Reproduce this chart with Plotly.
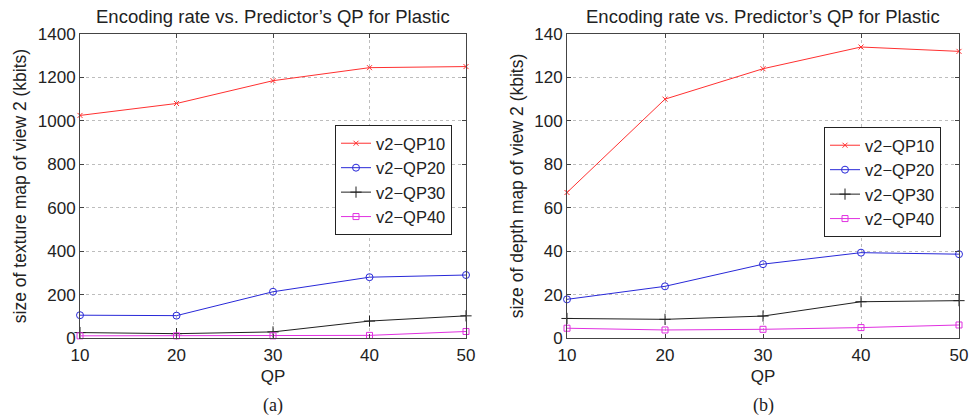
import plotly.graph_objects as go

qp = [10, 20, 30, 40, 50]
series_names = ["v2\u2212QP10", "v2\u2212QP20", "v2\u2212QP30", "v2\u2212QP40"]

texture_qp10 = [1025, 1080, 1185, 1245, 1250]
texture_qp20 = [105, 103, 213, 280, 290]
texture_qp30 = [25, 20, 28, 78, 102]
texture_qp40 = [10, 10, 10, 12, 30]

depth_qp10 = [67, 110, 124, 134, 132]
depth_qp20 = [17.8, 23.8, 34, 39.3, 38.6]
depth_qp30 = [9, 8.6, 10.1, 16.7, 17.2]
depth_qp40 = [4.5, 3.7, 4.0, 4.8, 6.0]

x_ticks = [10, 20, 30, 40, 50]
texture_ticks = [0, 200, 400, 600, 800, 1000, 1200, 1400]
depth_ticks = [0, 20, 40, 60, 80, 100, 120, 140]

title_text = "Encoding rate vs. Predictor\u2019s QP for Plastic"

styles = [
    dict(color="#ff3030", symbol="x-thin-open", size=5),
    dict(color="#2828d8", symbol="circle-open", size=7),
    dict(color="#202020", symbol="cross-thin-open", size=8),
    dict(color="#e030e0", symbol="square-open", size=6),
]

FONT = "Liberation Sans, Arial, sans-serif"
fig = go.Figure()

for vals, st, name in zip([texture_qp10, texture_qp20, texture_qp30, texture_qp40], styles, series_names):
    fig.add_trace(go.Scatter(
        x=qp, y=vals, mode="lines+markers", name=name,
        line=dict(color=st["color"], width=1),
        marker=dict(symbol=st["symbol"], size=st["size"], color=st["color"],
                    line=dict(color=st["color"], width=1)),
        xaxis="x", yaxis="y", legend="legend", cliponaxis=False))

for vals, st, name in zip([depth_qp10, depth_qp20, depth_qp30, depth_qp40], styles, series_names):
    fig.add_trace(go.Scatter(
        x=qp, y=vals, mode="lines+markers", name=name,
        line=dict(color=st["color"], width=1),
        marker=dict(symbol=st["symbol"], size=st["size"], color=st["color"],
                    line=dict(color=st["color"], width=1)),
        xaxis="x2", yaxis="y2", legend="legend2", cliponaxis=False))

W, H = 969, 417
# plot area in window pixels
PL, PR, PT, PB = 80, 959, 34, 338
L, R, T, B = PL, W - PR, PT, H - PB
PW, PH = W - L - R, H - T - B

def px_x(p):
    return (p - L) / PW

def px_y(p):
    return (H - B - p) / PH

axis_common = dict(
    showline=True, mirror="ticks", linecolor="#444", linewidth=1,
    ticks="inside", ticklen=4, tickcolor="#444", automargin=False,
    showgrid=True, gridcolor="#bdbdbd", griddash="dot", gridwidth=1,
    zeroline=False, tickfont=dict(size=17, color="#222", family=FONT),
)

xdom1 = [px_x(80), px_x(466)]
xdom2 = [px_x(567), px_x(959)]

fig.update_layout(
    width=W, height=H, template="none",
    margin=dict(l=L, r=R, t=T, b=B, autoexpand=False),
    paper_bgcolor="white", plot_bgcolor="white",
    font=dict(family=FONT, color="#222"),
    xaxis=dict(domain=xdom1, range=[10, 50], tickvals=x_ticks, anchor="y", ticklabelstandoff=2,
               title=dict(text="QP", font=dict(size=17), standoff=5), **axis_common),
    yaxis=dict(domain=[0, 1], range=[0, 1400], tickvals=texture_ticks, anchor="x",
               title=dict(text="size of texture map of view 2 (kbits)", font=dict(size=17.5), standoff=6),
               **axis_common),
    xaxis2=dict(domain=xdom2, range=[10, 50], tickvals=x_ticks, anchor="y2", ticklabelstandoff=2,
                title=dict(text="QP", font=dict(size=17), standoff=5), **axis_common),
    yaxis2=dict(domain=[0, 1], range=[0, 140], tickvals=depth_ticks, anchor="x2",
                title=dict(text="size of depth map of view 2 (kbits)", font=dict(size=17.5), standoff=6),
                **axis_common),
    legend=dict(x=px_x(335), y=px_y(125), xanchor="left", yanchor="top",
                bordercolor="#222", borderwidth=1, bgcolor="white",
                font=dict(size=16.5, family=FONT, color="#222"), tracegroupgap=0,
                itemwidth=30),
    legend2=dict(x=px_x(824), y=px_y(127), xanchor="left", yanchor="top",
                 bordercolor="#222", borderwidth=1, bgcolor="white",
                 font=dict(size=16.5, family=FONT, color="#222"), tracegroupgap=0,
                 itemwidth=30),
    showlegend=True,
)

for cx in [(xdom1[0] + xdom1[1]) / 2, (xdom2[0] + xdom2[1]) / 2]:
    fig.add_annotation(x=cx, y=px_y(17), xref="paper", yref="paper",
                       xanchor="center", yanchor="middle",
                       text=title_text, showarrow=False,
                       font=dict(size=18.5, family=FONT, color="#222"))

for cx, lab in [((xdom1[0] + xdom1[1]) / 2, "(a)"), ((xdom2[0] + xdom2[1]) / 2, "(b)")]:
    fig.add_annotation(x=cx, y=px_y(405), xref="paper", yref="paper",
                       xanchor="center", yanchor="middle",
                       text=lab, showarrow=False,
                       font=dict(size=18, family="Liberation Serif, Times New Roman, serif", color="#222"))

fig.write_html("out.html", config={"displayModeBar": False},
               post_script="document.body.style.margin='0px';document.body.style.overflow='hidden';")
